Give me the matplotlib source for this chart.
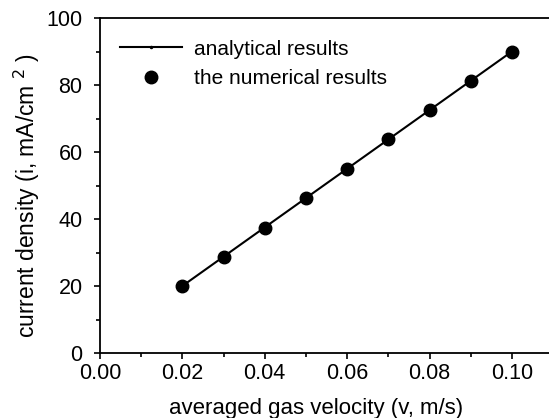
"""
Current density vs averaged gas velocity
"""
import matplotlib

matplotlib.use("Agg")
import matplotlib.pyplot as plt  # noqa:E402
from matplotlib.ticker import MultipleLocator  # noqa:E402

# data
velocity = [0.02, 0.03, 0.04, 0.05, 0.06, 0.07, 0.08, 0.09, 0.10]
analytical = [20.0, 28.75, 37.5, 46.25, 55.0, 63.75, 72.5, 81.25, 90.0]
numerical = [20.0, 28.7, 37.4, 46.2, 55.0, 63.8, 72.5, 81.2, 90.0]


def main():
    plt.rcParams["font.family"] = ["Liberation Sans", "DejaVu Sans"]

    fig = plt.figure(figsize=(5.49, 4.18), dpi=100)
    ax = fig.add_axes([0.182, 0.1555, 0.8255, 0.8014])

    ax.plot(velocity, analytical, color="black", lw=1.5, marker=".",
            markersize=3, label="analytical results")
    ax.plot(velocity, numerical, linestyle="none", marker="o", color="black",
            markersize=9, label="the numerical results")

    ax.set_xlim(0, 0.11)
    ax.set_ylim(0, 100)
    ax.xaxis.set_major_locator(MultipleLocator(0.02))
    ax.xaxis.set_minor_locator(MultipleLocator(0.01))
    ax.yaxis.set_major_locator(MultipleLocator(20))
    ax.yaxis.set_minor_locator(MultipleLocator(10))
    ax.xaxis.set_major_formatter(plt.FormatStrFormatter("%.2f"))

    ax.tick_params(which="major", direction="out", length=4.5, width=1.2,
                   labelsize=15.5)
    ax.tick_params(axis="y", which="major", pad=8)
    ax.tick_params(axis="x", which="major", pad=3)
    ax.tick_params(which="minor", direction="out", length=3, width=1.2)
    ax.tick_params(top=False, right=False)

    for side in ["left", "bottom", "top", "right"]:
        ax.spines[side].set_linewidth(1.3)

    ax.set_xlabel("averaged gas velocity (v, m/s)", fontsize=16)
    ax.xaxis.set_label_coords(0.476, -0.135)
    ax.set_ylabel("current density (i, mA/cm $^{2}$ )", fontsize=16.5)
    ax.yaxis.set_label_coords(-0.127, 0.47)

    ax.legend(loc="upper left", frameon=False, fontsize=15, handlelength=3.0,
              handletextpad=0.55, labelspacing=0.5, borderaxespad=0,
              borderpad=0, bbox_to_anchor=(0.044, 0.935))

    fig.savefig("out.png", dpi=100)
    plt.close(fig)


if __name__ == "__main__":
    main()
